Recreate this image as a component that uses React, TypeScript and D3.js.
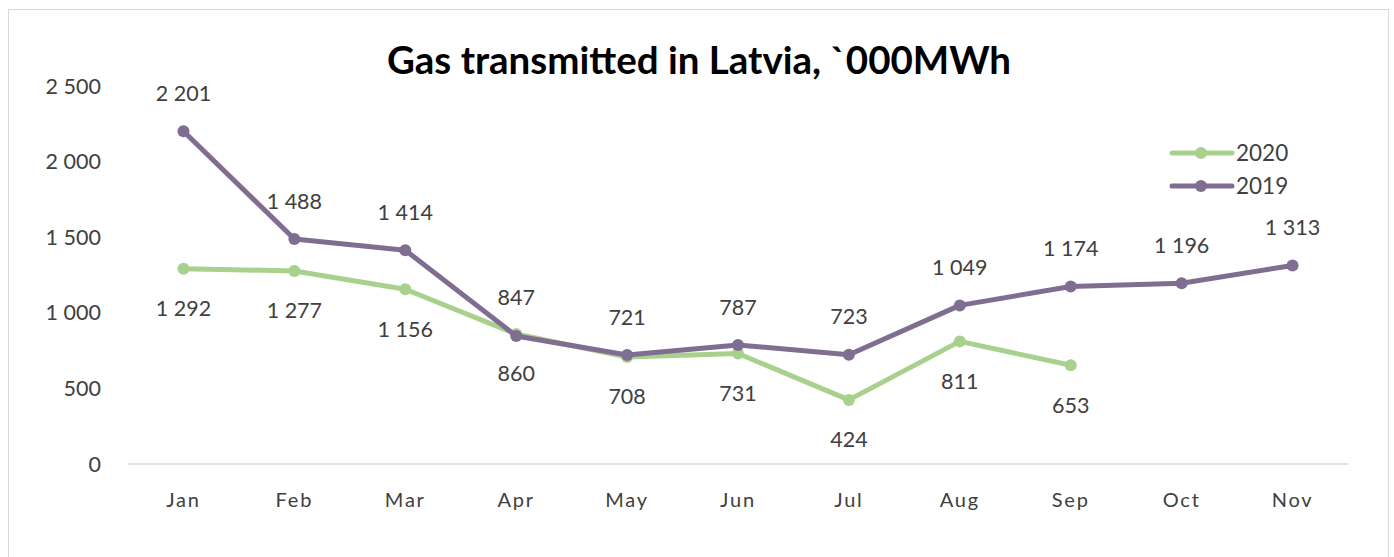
import React from "react";
import * as d3 from "d3";

const months = ["Jan", "Feb", "Mar", "Apr", "May", "Jun", "Jul", "Aug", "Sep", "Oct", "Nov"];
const values2019 = [2201, 1488, 1414, 847, 721, 787, 723, 1049, 1174, 1196, 1313];
const values2020 = [1292, 1277, 1156, 860, 708, 731, 424, 811, 653];
const yTicks = [0, 500, 1000, 1500, 2000, 2500];

const W = 1394;
const H = 557;
const FONT = "Lato, 'Open Sans', sans-serif";
const PURPLE = "#806d92";
const GREEN = "#a9d18e";
const TXT = "#404040";

const fmt = (v: number) => {
  const s = String(v);
  return s.length > 3 ? s.slice(0, s.length - 3) + " " + s.slice(-3) : s;
};

export default function App() {
  const x = d3.scaleBand<string>().domain(months).range([128, 1348]);
  const y = d3.scaleLinear().domain([0, 2500]).range([464, 86]);
  const cx = (m: string) => (x(m) as number) + x.bandwidth() / 2;
  const line = d3
    .line<number>()
    .x((_, i) => cx(months[i]))
    .y((d) => y(d));

  const series = [
    { name: "2020", values: values2020, color: GREEN, above: false },
    { name: "2019", values: values2019, color: PURPLE, above: true },
  ];

  return (
    <svg width={W} height={H} style={{ display: "block", position: "absolute", left: 0, top: 0 }}>
      <rect x={0} y={0} width={W} height={H} fill="#fff" />
      <rect x={8.5} y={9.5} width={1380} height={560} fill="#fff" stroke="#d9d9d9" strokeWidth={1} />
      <text x={699} y={74} textAnchor="middle" fontFamily={FONT} fontWeight="bold" fontSize={38.5} fill="#000">
        Gas transmitted in Latvia, `000MWh
      </text>
      <line x1={128} x2={1348} y1={y(0)} y2={y(0)} stroke="#d9d9d9" strokeWidth={1.5} />
      {yTicks.map((t) => (
        <text key={t} x={101} y={y(t)} dy="0.35em" textAnchor="end" fontFamily={FONT} fontSize={21.5} fill={TXT}>
          {fmt(t)}
        </text>
      ))}
      {months.map((m) => (
        <text key={m} x={cx(m)} y={500} dy="0.35em" textAnchor="middle" fontFamily={FONT} fontSize={20} letterSpacing={1.8} fill={TXT}>
          {m}
        </text>
      ))}
      {series.map((s) => (
        <g key={s.name}>
          <path d={line(s.values) || ""} fill="none" stroke={s.color} strokeWidth={5} strokeLinejoin="round" strokeLinecap="round" />
          {s.values.map((v, i) => (
            <circle key={i} cx={cx(months[i])} cy={y(v)} r={6} fill={s.color} />
          ))}
        </g>
      ))}
      {series.map((s) =>
        s.values.map((v, i) => (
          <text
            key={s.name + i}
            x={cx(months[i])}
            y={y(v) + (s.above ? -38 : 40)}
            dy="0.35em"
            textAnchor="middle"
            fontFamily={FONT}
            fontSize={21.5}
            fill={TXT}
          >
            {fmt(v)}
          </text>
        ))
      )}
      {series.map((s, i) => (
        <g key={"lg" + s.name}>
          <line x1={1172} x2={1232} y1={153 + i * 33} y2={153 + i * 33} stroke={s.color} strokeWidth={5} strokeLinecap="round" />
          <circle cx={1201} cy={153 + i * 33} r={6} fill={s.color} />
          <text x={1236} y={153 + i * 33} dy="0.35em" fontFamily={FONT} fontSize={22.5} fill={TXT}>
            {s.name}
          </text>
        </g>
      ))}
    </svg>
  );
}
